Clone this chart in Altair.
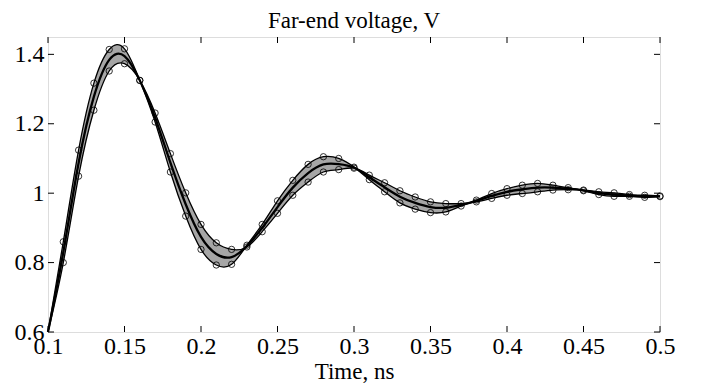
import altair as alt
import pandas as pd

# Time samples (ns)
t = [0.10, 0.11, 0.12, 0.13, 0.14, 0.15, 0.16, 0.17, 0.18, 0.19,
     0.20, 0.21, 0.22, 0.23, 0.24, 0.25, 0.26, 0.27, 0.28, 0.29,
     0.30, 0.31, 0.32, 0.33, 0.34, 0.35, 0.36, 0.37, 0.38, 0.39,
     0.40, 0.41, 0.42, 0.43, 0.44, 0.45, 0.46, 0.47, 0.48, 0.49, 0.50]

# Bound curve A (faster response)
bound_a = [0.600, 0.860, 1.124, 1.317, 1.414, 1.416, 1.325, 1.205, 1.061, 0.934,
           0.838, 0.793, 0.795, 0.850, 0.910, 0.978, 1.037, 1.083, 1.105, 1.100,
           1.075, 1.039, 1.004, 0.972, 0.954, 0.944, 0.946, 0.963, 0.980, 0.999,
           1.013, 1.023, 1.028, 1.023, 1.016, 1.007, 0.996, 0.991, 0.991, 0.988, 0.990]

# Bound curve B (slower response)
bound_b = [0.600, 0.800, 1.049, 1.239, 1.352, 1.373, 1.325, 1.231, 1.114, 1.001,
           0.910, 0.857, 0.838, 0.845, 0.889, 0.942, 0.994, 1.032, 1.061, 1.068,
           1.072, 1.052, 1.030, 1.007, 0.989, 0.975, 0.970, 0.970, 0.975, 0.985,
           0.994, 0.999, 1.004, 1.009, 1.010, 1.009, 1.004, 1.001, 0.996, 0.994, 0.992]

# Nominal (middle) curve
nominal = [0.600, 0.830, 1.087, 1.278, 1.384, 1.395, 1.325, 1.218, 1.088, 0.968,
           0.874, 0.825, 0.816, 0.848, 0.900, 0.960, 1.016, 1.058, 1.083, 1.084,
           1.074, 1.046, 1.017, 0.990, 0.972, 0.960, 0.958, 0.966, 0.978, 0.992,
           1.004, 1.011, 1.016, 1.016, 1.013, 1.008, 1.000, 0.996, 0.993, 0.991, 0.991]

x_ticks = [0.1, 0.15, 0.2, 0.25, 0.3, 0.35, 0.4, 0.45, 0.5]
y_ticks = [0.6, 0.8, 1.0, 1.2, 1.4]

FONT = "Liberation Serif"
W, H = 612, 295

df = pd.DataFrame({"t": t, "a": bound_a, "b": bound_b, "m": nominal})
xt = pd.DataFrame({"v": x_ticks})
yt = pd.DataFrame({"v": y_ticks})

xscale = alt.Scale(domain=[0.1, 0.5], nice=False, zero=False)
yscale = alt.Scale(domain=[0.6, 1.45], nice=False, zero=False)

xaxis = alt.Axis(values=x_ticks, format=".2~f", ticks=False, domain=False, grid=False,
                 labelFont=FONT, labelFontSize=24, labelColor="black", labelPadding=2,
                 labelFlush=False, labelOverlap=False,
                 title="Time, ns", titleFont=FONT, titleFontSize=23, titleFontWeight="normal",
                 titleColor="black", titlePadding=2)
yaxis = alt.Axis(values=y_ticks, format=".2~f", ticks=False, domain=False, grid=False,
                 labelFont=FONT, labelFontSize=24, labelColor="black", labelPadding=4,
                 labelFlush=False, labelOverlap=False, title=None)

base = alt.Chart(df)
markers = base.transform_filter("datum.t > 0.105")

band = base.mark_area(interpolate="natural", color="#a6a6a6", opacity=1).encode(
    x=alt.X("t:Q", scale=xscale, axis=xaxis),
    y=alt.Y("a:Q", scale=yscale, axis=yaxis),
    y2="b:Q",
)
line_a = base.mark_line(interpolate="natural", color="black", strokeWidth=1.3).encode(
    x="t:Q", y="a:Q")
line_b = base.mark_line(interpolate="natural", color="black", strokeWidth=1.3).encode(
    x="t:Q", y="b:Q")
line_m = base.mark_line(interpolate="natural", color="black", strokeWidth=2.3).encode(
    x="t:Q", y="m:Q")
pts_a = markers.mark_point(shape="circle", filled=False, size=40, color="black",
                           strokeWidth=0.8, opacity=1).encode(x="t:Q", y="a:Q")
pts_b = markers.mark_point(shape="circle", filled=False, size=40, color="black",
                           strokeWidth=0.8, opacity=1).encode(x="t:Q", y="b:Q")

tick_bottom = alt.Chart(xt).mark_rule(color="black", strokeWidth=1).encode(
    x="v:Q", y=alt.value(H), y2=alt.value(H - 6))
tick_top = alt.Chart(xt).mark_rule(color="black", strokeWidth=1).encode(
    x="v:Q", y=alt.value(0), y2=alt.value(6))
tick_left = alt.Chart(yt).mark_rule(color="black", strokeWidth=1).encode(
    y="v:Q", x=alt.value(0), x2=alt.value(6))
tick_right = alt.Chart(yt).mark_rule(color="black", strokeWidth=1).encode(
    y="v:Q", x=alt.value(W), x2=alt.value(W - 6))

chart = alt.layer(
    band, line_a, line_b, line_m, pts_a, pts_b,
    tick_bottom, tick_top, tick_left, tick_right,
).properties(
    width=W, height=H,
    title=alt.TitleParams("Far-end voltage, V", font=FONT, fontSize=23,
                          fontWeight="normal", color="black", anchor="middle", offset=4),
    autosize=alt.AutoSizeParams(type="none"),
    padding={"left": 40, "top": 29, "right": 30, "bottom": 51},
).configure_view(
    stroke="black", strokeWidth=1
).configure(background="white")

chart.save("out.html", embed_options={"renderer": "svg", "actions": False})
